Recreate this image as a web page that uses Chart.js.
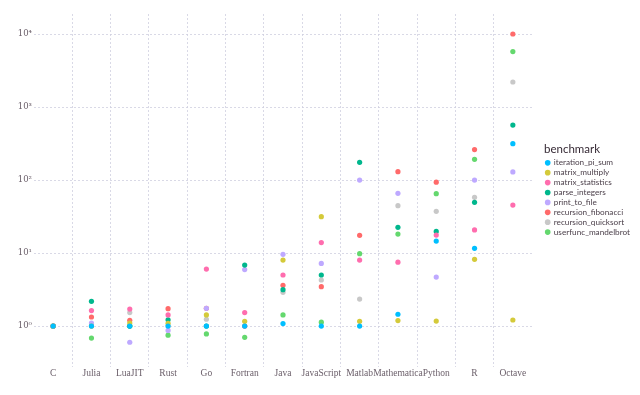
<!DOCTYPE html>
<html>
<head>
<meta charset="utf-8">
<script src="https://cdn.jsdelivr.net/npm/chart.js@4"></script>
<style>
  html, body { margin: 0; padding: 0; background: #fff; }
  #wrap { width: 640px; height: 395px; }
</style>
</head>
<body>
<div id="wrap"><canvas id="graficoCanvas"></canvas></div>
<script>
// Categorias (lenguajes) y tiempos relativos a C
const languages = ['C', 'Julia', 'LuaJIT', 'Rust', 'Go', 'Fortran', 'Java', 'JavaScript', 'Matlab', 'Mathematica', 'Python', 'R', 'Octave']

const iteration_pi_sum    = [1.0, 1.0, 1.0, 1.0, 1.0, 1.0, 1.08, 1.0, 1.0, 1.45, 14.6, 11.6, 315]
const matrix_multiply     = [1.0, 1.0, 1.10, 1.09, 1.42, 1.16, 8.0, 31.5, 1.16, 1.19, 1.17, 8.2, 1.21]
const matrix_statistics   = [1.0, 1.63, 1.71, 1.42, 6.04, 1.53, 5.0, 13.9, 8.0, 7.5, 17.6, 20.7, 45.4]
const parse_integers      = [1.0, 2.18, 1.0, 1.22, 1.0, 6.85, 3.15, 5.0, 175, 22.5, 19.8, 49.5, 566]
const print_to_file       = [1.0, 1.10, 0.60, 0.87, 1.75, 5.93, 9.6, 7.2, 100, 65.8, 4.69, 100, 129]
const recursion_fibonacci = [1.0, 1.33, 1.20, 1.73, 1.75, 1.0, 3.61, 3.46, 17.5, 130, 93.6, 261, 10000]
const recursion_quicksort = [1.0, 1.0, 1.53, 1.0, 1.24, 1.0, 2.9, 4.27, 2.34, 44.6, 37.3, 58, 2200]
const userfunc_mandelbrot = [1.0, 0.685, 1.0, 0.75, 0.78, 0.70, 1.42, 1.13, 9.8, 18.2, 65, 192, 5740]

const seriesNames = ['iteration_pi_sum', 'matrix_multiply', 'matrix_statistics', 'parse_integers',
  'print_to_file', 'recursion_fibonacci', 'recursion_quicksort', 'userfunc_mandelbrot']
const seriesData = [iteration_pi_sum, matrix_multiply, matrix_statistics, parse_integers,
  print_to_file, recursion_fibonacci, recursion_quicksort, userfunc_mandelbrot]
const colors = ['#00BFFF', '#D4CA3A', '#FF6DAE', '#00B78D', '#BEA9FF', '#FF6A6A', '#C8C8C8', '#64D86E']

// Marcas del eje y (potencias de 10)
const yTicks = [1, 10, 100, 1000, 10000]
const yTickLabels = ['10⁰', '10¹', '10²', '10³', '10⁴']

const gridColor = '#D0D0E0'
const labelColor = '#6c606b'

const generateChart = () => {
  let canvas = document.getElementById('graficoCanvas')
  let datasets = seriesNames.map((name, i) => ({
    label: name,
    data: seriesData[i],
    backgroundColor: colors[i],
    borderColor: colors[i],
    showLine: false,
    pointRadius: 2.6,
    pointBorderWidth: 0,
    pointStyle: 'circle'
  }))

  return new Chart(canvas, {
    type: 'line',
    data: { labels: languages, datasets: datasets },
    options: {
      responsive: true,
      maintainAspectRatio: false,
      animation: false,
      events: [],
      layout: { padding: { top: 14, left: 0, right: 0, bottom: 14.5 } },
      scales: {
        x: {
          type: 'category',
          offset: true,
          border: { display: false, dash: [2, 2] },
          grid: {
            offset: true,
            drawTicks: false,
            lineWidth: 0.8,
            color: ctx => (ctx.type === 'tick' && ctx.index > 0) ? gridColor : 'rgba(0,0,0,0)'
          },
          ticks: {
            color: labelColor,
            padding: 1,
            autoSkip: false,
            maxRotation: 0,
            font: { family: 'Liberation Serif', size: 9.5 }
          }
        },
        y: {
          type: 'logarithmic',
          min: 0.274,
          max: 18800,
          border: { display: false, dash: [2, 2] },
          afterBuildTicks: scale => { scale.ticks = yTicks.map(v => ({ value: v })) },
          afterFit: scale => { scale.width = 34 },
          grid: {
            drawTicks: false,
            color: gridColor,
            lineWidth: 0.8
          },
          ticks: {
            color: labelColor,
            padding: 2,
            font: { family: 'DejaVu Serif', size: 8.5 },
            callback: (value) => {
              let idx = yTicks.indexOf(value)
              return idx >= 0 ? yTickLabels[idx] : ''
            }
          }
        },
        // espacio entre el panel y la leyenda
        spacer: {
          type: 'linear',
          position: 'right',
          display: true,
          border: { display: false },
          grid: { display: false, drawTicks: false },
          ticks: { display: false },
          afterFit: scale => { scale.width = 12 }
        }
      },
      plugins: {
        tooltip: { enabled: false },
        legend: {
          position: 'right',
          align: 'center',
          fullSize: false,
          title: {
            display: true,
            text: 'benchmark',
            position: 'start',
            color: '#362a35',
            font: { family: 'Lato', size: 11.5 },
            padding: { top: 0, bottom: 0 }
          },
          labels: {
            usePointStyle: true,
            pointStyle: 'circle',
            boxWidth: 4,
            boxHeight: 4,
            padding: 1.7,
            color: '#4c404b',
            font: { family: 'Lato', size: 8.2 }
          }
        }
      }
    }
  })
}

generateChart()
</script>
</body>
</html>
